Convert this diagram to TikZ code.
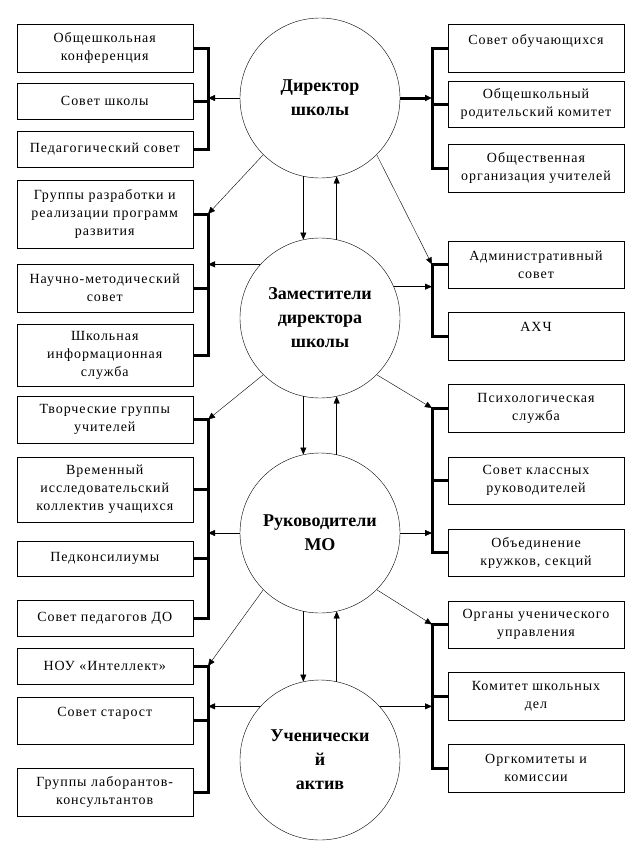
\documentclass[tikz,border=0pt]{standalone}
\usepackage{fontspec}
\setmainfont{Liberation Serif}
\newfontfamily\unitfont[LetterSpace=7]{Liberation Serif}
\usetikzlibrary{arrows.meta}
\tikzset{
  unit/.style={draw, minimum width=176pt, align=center, inner sep=2pt,
    font=\unitfont\fontsize{14}{18}\selectfont},
  hub/.style={draw, circle, minimum size=160pt, align=center,
    font=\bfseries\fontsize{18}{24}\selectfont},
  bar/.style={line width=3pt},
  arr/.style={-{Triangle[length=7pt,width=6pt]}},
}
\begin{document}
\begin{tikzpicture}[x=1pt,y=-1pt]
  \useasboundingbox (0,0) rectangle (641,849);
  \coordinate (bl) at (208,0);
  \coordinate (br) at (432,0);

  \node[hub] (dir) at (320,98) {Директор\\школы};
  \node[hub] (zam) at (320,318) {Заместители\\директора\\школы};
  \node[hub] (ruk) at (320,533) {Руководители\\МО};
  \node[hub] (uch) at (320,760) {Ученически\\й\\актив};

  \node[unit, minimum height=48pt] (l1) at (104.75,48) {Общешкольная\\конференция};
  \node[unit, minimum height=36pt] (l2) at (104.75,101) {Совет школы};
  \node[unit, minimum height=36pt] (l3) at (104.75,149) {Педагогический совет};
  \node[unit, minimum height=68pt] (l4) at (104.75,214) {Группы разработки и\\реализации программ\\развития};
  \node[unit, minimum height=48pt] (l5) at (104.75,288) {Научно-методический\\совет};
  \node[unit, minimum height=62pt] (l6) at (104.75,355) {Школьная\\информационная\\служба};
  \node[unit, minimum height=47pt] (l7) at (104.75,419.5) {Творческие группы\\учителей};
  \node[unit, minimum height=65pt] (l8) at (104.75,489.5) {Временный\\исследовательский\\коллектив учащихся};
  \node[unit, minimum height=35pt] (l9) at (104.75,558.5) {Педконсилиумы};
  \node[unit, minimum height=36pt] (l10) at (104.75,618) {Совет педагогов ДО};
  \node[unit, minimum height=36pt] (l11) at (104.75,666) {НОУ «Интеллект»};
  \node[unit, minimum height=47pt] (l12) at (104.75,720.5) {Совет старост\\~};
  \node[unit, minimum height=48pt] (l13) at (104.75,792) {Группы лаборантов-\\консультантов};

  \node[unit, minimum height=48pt] (r1) at (536,48) {Совет обучающихся\\~};
  \node[unit, minimum height=46pt] (r2) at (536,104) {Общешкольный\\родительский комитет};
  \node[unit, minimum height=48pt] (r3) at (536,168) {Общественная\\организация учителей};
  \node[unit, minimum height=47pt] (r4) at (536,264.5) {Административный\\совет};
  \node[unit, minimum height=48pt] (r5) at (536,336) {АХЧ\\~};
  \node[unit, minimum height=48pt] (r6) at (536,408) {Психологическая\\служба};
  \node[unit, minimum height=47pt] (r7) at (536,480.5) {Совет классных\\руководителей};
  \node[unit, minimum height=47pt] (r8) at (536,552.5) {Объединение\\кружков, секций};
  \node[unit, minimum height=47pt] (r9) at (536,624.5) {Органы ученического\\управления};
  \node[unit, minimum height=48pt] (r10) at (536,696) {Комитет школьных\\дел};
  \node[unit, minimum height=48pt] (r11) at (536,768) {Оргкомитеты и\\комиссии};

  \draw[arr] (dir.west) -- (dir.west -| bl);
  \draw[bar, arr] (dir.east) -- (dir.east -| br);
  \draw[arr] (dir.225) -- (l4.east -| bl);
  \draw[arr] (dir.315) -- (r4.west -| br);
  \draw[arr] (dir.258) -- (zam.102);
  \draw[arr] (zam.78) -- (dir.282);

  \draw[arr] (zam.138) -- (zam.138 -| bl);
  \draw[arr] (zam.23) -- (zam.23 -| br);
  \draw[arr] (zam.225) -- (l7.east -| bl);
  \draw[arr] (zam.315) -- (r6.west -| br);
  \draw[arr] (zam.258) -- (ruk.102);
  \draw[arr] (ruk.78) -- (zam.282);

  \draw[arr] (ruk.west) -- (ruk.west -| bl);
  \draw[arr] (ruk.east) -- (ruk.east -| br);
  \draw[arr] (ruk.225) -- (l11.east -| bl);
  \draw[arr] (ruk.315) -- (r9.west -| br);
  \draw[arr] (ruk.258) -- (uch.102);
  \draw[arr] (uch.78) -- (ruk.282);

  \draw[arr] (uch.138) -- (uch.138 -| bl);
  \draw[arr] (uch.42) -- (uch.42 -| br);

  \foreach \a/\b in {l1/l3, l4/l6, l7/l10, l11/l13}
    \draw[bar] (\a.east) -- (\a.east -| bl) -- (\b.east -| bl) -- (\b.east);
  \foreach \m in {l2, l5, l8, l9, l12}
    \draw[bar] (\m.east) -- (\m.east -| bl);
  \foreach \a/\b in {r1/r3, r4/r5, r6/r8, r9/r11}
    \draw[bar] (\a.west) -- (\a.west -| br) -- (\b.west -| br) -- (\b.west);
  \foreach \m in {r2, r7, r10}
    \draw[bar] (\m.west) -- (\m.west -| br);
\end{tikzpicture}
\end{document}
